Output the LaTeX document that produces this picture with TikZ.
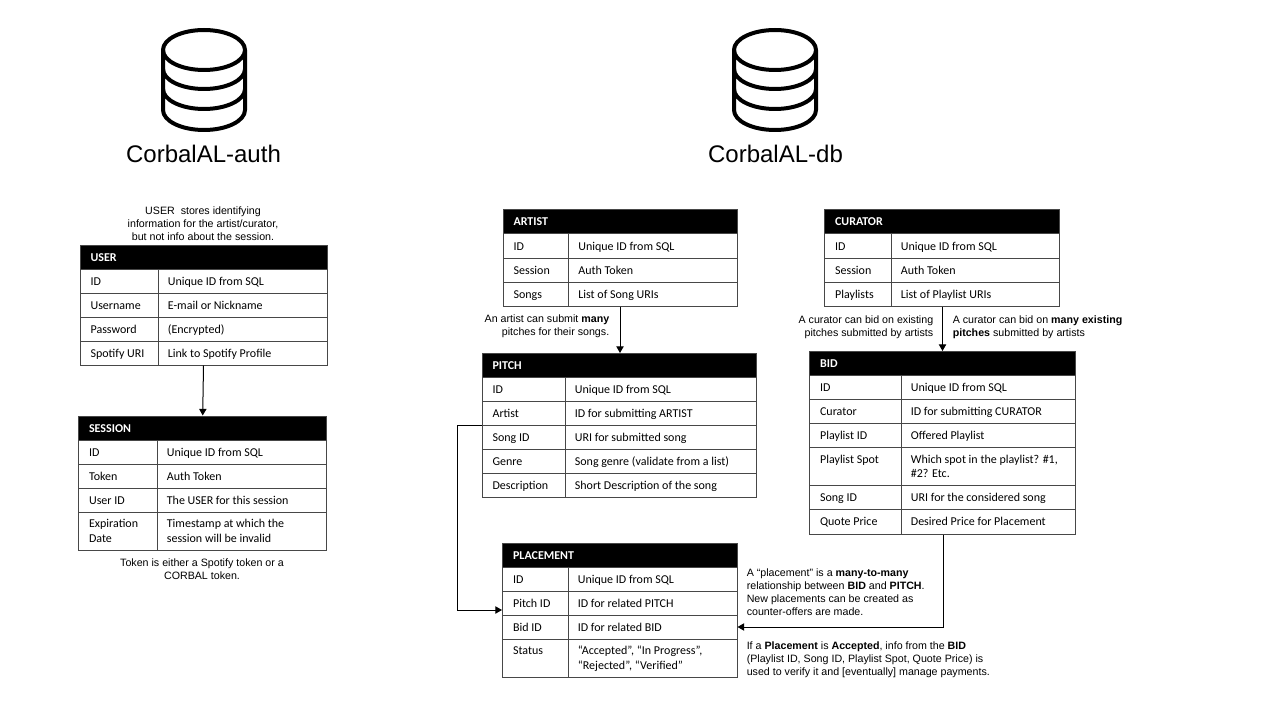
\documentclass[tikz,border=0pt]{standalone}
\usepackage{fontspec}
\setmainfont{Carlito}
\newfontfamily\notefont{Liberation Sans}
\usetikzlibrary{arrows.meta,calc}
\tikzset{
  cellbox/.style={draw=black!72,line width=0.75pt,inner sep=0pt},
  headbox/.style={draw=black!72,fill=black,line width=0.75pt,inner sep=0pt},
  celltext/.style={inner sep=0pt,align=left,anchor=west,font=\fontsize{9}{10.9}\selectfont},
  headtext/.style={inner sep=0pt,anchor=west,text=white,font=\fontsize{9}{10.9}\selectfont\bfseries},
  notetext/.style={inner sep=0pt,font=\notefont\fontsize{8}{9.8}\selectfont},
  titletext/.style={inner sep=0pt,font=\notefont\fontsize{18}{21}\selectfont},
  conn/.style={draw=black,line width=0.75pt,-{Triangle[length=5pt,width=5.5pt]}},
  dbline/.style={draw=black,line width=3pt,line cap=round,line join=round}
}
\newcommand{\cellstrut}[1]{\rule{0pt}{8pt}#1\rule[-2pt]{0pt}{2pt}}
% \thead{name}{x0}{x1}{ya}{yb}{title}
\newcommand{\thead}[6]{%
  \pgfmathsetmacro{\cw}{(#3-#2)*0.75}\pgfmathsetmacro{\ch}{(#5-#4)*0.75}%
  \node[headbox,minimum width=\cw pt,minimum height=\ch pt] (#1) at ({(#2+#3)/2},{(#4+#5)/2}) {};%
  \node[headtext] (#1T) at ({#2+10.3},{(#4+#5)/2}) {\cellstrut{#6}};}
% \trow{prefix}{n}{x0}{xm}{x1}{ya}{yb}{left}{right}
\newcommand{\trow}[9]{%
  \pgfmathsetmacro{\cw}{(#4-#3)*0.75}\pgfmathsetmacro{\dw}{(#5-#4)*0.75}\pgfmathsetmacro{\ch}{(#7-#6)*0.75}%
  \node[cellbox,minimum width=\cw pt,minimum height=\ch pt] (#1A#2) at ({(#3+#4)/2},{(#6+#7)/2}) {};%
  \node[cellbox,minimum width=\dw pt,minimum height=\ch pt] (#1B#2) at ({(#4+#5)/2},{(#6+#7)/2}) {};%
  \node[celltext] (#1L#2) at ({#3+10.3},{(#6+#7)/2}) {\cellstrut{#8}};%
  \node[celltext] (#1R#2) at ({#4+9.6},{(#6+#7)/2}) {\cellstrut{#9}};}
\newcommand{\dbicon}[1]{%
  \begin{scope}[shift={(#1,0)}]
    \draw[dbline] (0,50) ellipse [x radius=41,y radius=20];
    \draw[dbline] (-41,50) -- (-41,110) arc[start angle=180,end angle=0,x radius=41,y radius=20] -- (41,50);
    \draw[dbline] (-41,69) arc[start angle=180,end angle=0,x radius=41,y radius=20];
    \draw[dbline] (-41,89) arc[start angle=180,end angle=0,x radius=41,y radius=20];
  \end{scope}}
\begin{document}
\begin{tikzpicture}[x=0.75pt,y=-0.75pt]
\useasboundingbox (0,0) rectangle (1280,720);
\fill[white] (0,0) rectangle (1280,720);

\dbicon{204}
\dbicon{775}
\node[titletext] (authT) at (203.5,154) {CorbalAL-auth};
\node[titletext] (dbT) at (775.5,154) {CorbalAL-db};

% USER
\node[notetext,align=center] (userNote) at (203,223.5) {USER\ \ stores identifying\\information\ for the artist/curator,\\but not info about the session.};
\thead{userH}{80}{327}{245}{269}{USER}
\trow{user}{1}{80}{158}{327}{269}{293}{ID}{Unique ID from SQL}
\trow{user}{2}{80}{158}{327}{293}{317}{Username}{E-mail or Nickname}
\trow{user}{3}{80}{158}{327}{317}{341}{Password}{(Encrypted)}
\trow{user}{4}{80}{158}{327}{341}{365}{Spotify URI}{Link to Spotify Profile}

% SESSION
\thead{sessH}{78.5}{326}{416}{440}{SESSION}
\trow{sess}{1}{78.5}{157}{326}{440}{464}{ID}{Unique ID from SQL}
\trow{sess}{2}{78.5}{157}{326}{464}{488}{Token}{Auth Token}
\trow{sess}{3}{78.5}{157}{326}{488}{512}{User ID}{The USER for this session}
\trow{sess}{4}{78.5}{157}{326}{512}{550}{Expiration\\Date}{Timestamp at which the\\session will be invalid}
\node[notetext,align=center] (tokNote) at (202,569) {Token\ is either a Spotify token or a\\CORBAL\ token.};

% ARTIST
\thead{artH}{503}{737}{209.5}{234}{ARTIST}
\trow{art}{1}{503}{568.5}{737}{234}{258}{ID}{Unique ID from SQL}
\trow{art}{2}{503}{568.5}{737}{258}{282}{Session}{Auth Token}
\trow{art}{3}{503}{568.5}{737}{282}{306}{Songs}{List of Song URIs}
\node[notetext,align=right,anchor=east] (artNote) at (609.5,326.5) {An artist can submit \textbf{many}\\pitches for their songs.};

% PITCH
\thead{piH}{482}{756.5}{353.5}{377.5}{PITCH}
\trow{pi}{1}{482}{565}{756.5}{377.5}{401.5}{ID}{Unique ID from SQL}
\trow{pi}{2}{482}{565}{756.5}{401.5}{425.5}{Artist}{ID for submitting ARTIST}
\trow{pi}{3}{482}{565}{756.5}{425.5}{449}{Song ID}{URI for submitted song}
\trow{pi}{4}{482}{565}{756.5}{449}{473}{Genre}{Song genre (validate from a list)}
\trow{pi}{5}{482}{565}{756.5}{473}{497}{Description}{Short Description of the song}

% CURATOR
\thead{curH}{824.5}{1059.5}{209.5}{234}{CURATOR}
\trow{cur}{1}{824.5}{891}{1059.5}{234}{258}{ID}{Unique ID from SQL}
\trow{cur}{2}{824.5}{891}{1059.5}{258}{282}{Session}{Auth Token}
\trow{cur}{3}{824.5}{891}{1059.5}{282}{306}{Playlists}{List of Playlist URIs}
\node[notetext,align=right,anchor=east] (curNoteA) at (933.5,327.5) {A curator can bid on existing\\pitches submitted by artists};
\node[notetext,align=left,anchor=west] (curNoteB) at (952.5,327.5) {A curator can bid on \textbf{many existing}\\\textbf{pitches} submitted by artists};

% BID
\thead{bidH}{809.5}{1075.5}{351.5}{375.5}{BID}
\trow{bid}{1}{809.5}{901}{1075.5}{375.5}{399.5}{ID}{Unique ID from SQL}
\trow{bid}{2}{809.5}{901}{1075.5}{399.5}{423.5}{Curator}{ID for submitting CURATOR}
\trow{bid}{3}{809.5}{901}{1075.5}{423.5}{447.5}{Playlist ID}{Offered Playlist}
\trow{bid}{4}{809.5}{901}{1075.5}{447.5}{485.5}{Playlist Spot\\~}{Which spot in the playlist? \#1,\\\#2? Etc.}
\trow{bid}{5}{809.5}{901}{1075.5}{485.5}{509.5}{Song ID}{URI for the considered song}
\trow{bid}{6}{809.5}{901}{1075.5}{509.5}{534}{Quote Price}{Desired Price for Placement}

% PLACEMENT
\thead{plH}{502.5}{737}{543}{567}{PLACEMENT}
\trow{pl}{1}{502.5}{568}{737}{567}{591}{ID}{Unique ID from SQL}
\trow{pl}{2}{502.5}{568}{737}{591}{615}{Pitch ID}{ID for related PITCH}
\trow{pl}{3}{502.5}{568}{737}{615}{639}{Bid ID}{ID for related BID}
\trow{pl}{4}{502.5}{568}{737}{639}{677}{Status\\~}{“Accepted”, “In Progress”,\\“Rejected”, “Verified”}
\node[notetext,align=left,anchor=west] (plNoteA) at (746.5,592) {A “placement” is a \textbf{many-to-many}\\relationship between \textbf{BID} and \textbf{PITCH}.\\New placements can be created as\\counter-offers are made.};
\node[notetext,align=left,anchor=west] (plNoteB) at (746.5,660) {If a \textbf{Placement} is \textbf{Accepted}, info from the \textbf{BID}\\(Playlist ID,\ Song ID,\ Playlist Spot, Quote Price) is\\used to verify it and [eventually] manage\ payments.};

% connectors
\coordinate (userOut) at (203.5,0);
\coordinate (sessIn) at (202.7,0);
\draw[conn] (userOut |- userB4.south) -- (sessIn |- sessH.north);
\coordinate (artOut) at (620,0);
\draw[conn] (artOut |- artB3.south) -- (artOut |- piH.north);
\coordinate (curOut) at (942.5,0);
\draw[conn] (curOut |- curB3.south) -- (curOut |- bidH.north);
\coordinate (bendL) at (457.5,610);
\draw[conn] (piA3.north west) -| (bendL) -- (plA2.west |- bendL);
\coordinate (bendR) at (943.5,627);
\draw[conn] (bendR |- bidB6.south) -- (bendR) -- (plB3.east |- bendR);
\end{tikzpicture}
\end{document}
